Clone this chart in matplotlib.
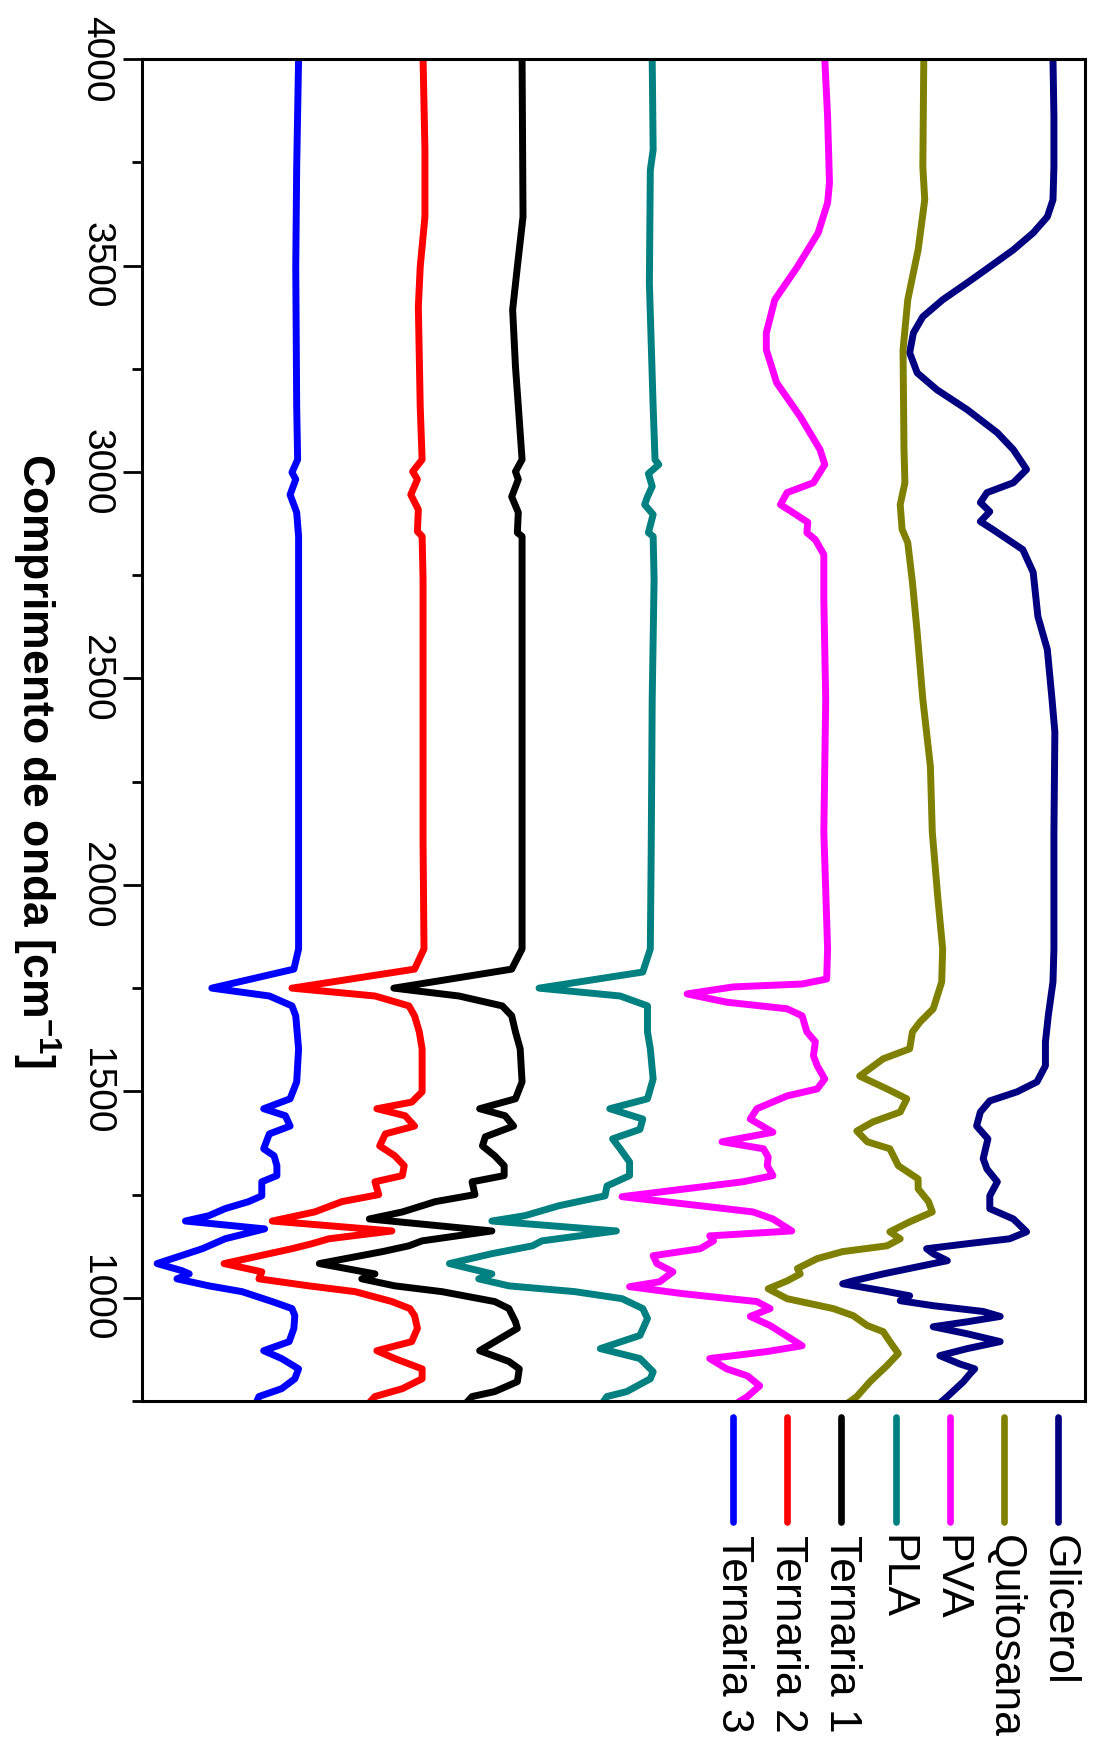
import matplotlib
matplotlib.use("Agg")
import matplotlib.pyplot as plt
from matplotlib.ticker import MultipleLocator

plt.rcParams['font.family'] = ['Liberation Sans', 'DejaVu Sans']
plt.rcParams['mathtext.fontset'] = 'custom'
plt.rcParams['mathtext.rm'] = 'Liberation Sans'
plt.rcParams['mathtext.bf'] = 'Liberation Sans:bold'
plt.rcParams['mathtext.default'] = 'bf'

# --- FTIR spectra (wavenumber in cm-1, transmittance with vertical offset, a.u.) ---
glicerol_wn = [4000, 3860, 3739, 3659, 3618, 3579, 3538, 3497, 3458, 3417, 3376, 3337, 3289, 3240, 3199,
               3151, 3095, 3054, 3006, 2974, 2950, 2926, 2904, 2880, 2861, 2812, 2757, 2650, 2570, 2449,
               2370, 2128, 1845, 1765, 1683, 1620, 1562, 1523, 1499, 1477, 1450, 1416, 1385, 1337, 1312,
               1281, 1247, 1216, 1191, 1160, 1143, 1131, 1119, 1107, 1090, 1075, 1058, 1041, 1034, 1017,
               1005, 993, 981, 967, 955, 942, 930, 913, 894, 877, 860, 840, 828, 816, 797, 761, 751]
glicerol_t = [96.6, 96.7, 96.7, 96.6, 96.0, 94.5, 92.4, 89.9, 87.5, 84.9, 82.8, 81.8, 81.4, 82.2, 84.3,
              87.5, 90.7, 92.4, 93.8, 92.4, 89.6, 88.9, 89.9, 88.9, 90.2, 93.4, 94.5, 95.0, 96.0, 96.5,
              96.8, 96.7, 96.7, 96.6, 96.1, 95.8, 95.8, 94.9, 92.8, 89.9, 88.9, 88.5, 89.7, 89.2, 89.6,
              90.7, 89.9, 89.9, 92.4, 93.8, 92.0, 87.5, 83.2, 83.9, 85.4, 82.2, 78.6, 75.4, 74.3, 78.6,
              81.4, 80.4, 83.9, 89.2, 91.0, 87.5, 83.9, 87.5, 91.0, 87.5, 84.6, 86.7, 88.3, 87.8, 87.1, 85.4, 84.9]

quitosana_wn = [4000, 3739, 3659, 3538, 3417, 3296, 3054, 2974, 2921, 2861, 2829, 2732, 2611, 2449, 2287,
                2128, 1966, 1845, 1765, 1700, 1668, 1644, 1603, 1579, 1537, 1506, 1482, 1450, 1426, 1404,
                1378, 1361, 1320, 1288, 1264, 1233, 1208, 1184, 1160, 1143, 1126, 1112, 1095, 1071, 1058,
                1041, 1022, 998, 974, 957, 933, 918, 894, 865, 836, 797, 761, 751]
quitosana_t = [82.9, 82.8, 83.0, 82.3, 81.2, 80.7, 80.8, 80.9, 80.4, 80.6, 81.2, 81.7, 82.2, 82.8, 83.6,
               83.8, 84.4, 84.9, 84.8, 83.9, 82.5, 81.7, 81.4, 78.6, 76.1, 79.0, 81.1, 80.4, 77.5, 75.8,
               76.9, 79.3, 80.2, 82.3, 82.3, 83.4, 83.8, 81.4, 79.3, 80.4, 79.0, 74.3, 71.6, 69.5, 69.8,
               68.4, 66.4, 68.4, 73.3, 75.4, 76.9, 78.6, 79.3, 80.2, 79.0, 77.2, 75.8, 75.2]

pva_wn = [4000, 3860, 3700, 3652, 3579, 3497, 3417, 3337, 3296, 3216, 3134, 3054, 3018, 2974, 2950,
          2921, 2902, 2878, 2853, 2836, 2800, 2691, 2449, 2128, 1845, 1772, 1760, 1753, 1736, 1716,
          1700, 1683, 1644, 1620, 1586, 1562, 1530, 1506, 1489, 1458, 1433, 1401, 1378, 1361, 1341,
          1320, 1296, 1281, 1245, 1223, 1208, 1191, 1162, 1150, 1138, 1119, 1102, 1083, 1063, 1039,
          1027, 1010, 991, 974, 955, 933, 884, 870, 853, 828, 811, 787, 761, 751]
pva_t = [72.4, 72.7, 72.9, 72.7, 71.7, 69.5, 67.1, 66.2, 66.2, 67.3, 69.8, 71.9, 72.4, 71.2, 68.4,
         67.7, 69.0, 70.6, 70.5, 71.4, 72.3, 72.3, 72.5, 72.3, 72.7, 72.6, 70.0, 62.7, 57.8, 62.0,
         68.4, 70.0, 70.5, 71.4, 71.2, 71.6, 72.4, 71.6, 68.4, 65.2, 64.5, 66.9, 61.5, 65.9, 66.4,
         66.3, 66.9, 63.7, 50.9, 59.2, 64.8, 66.9, 68.9, 60.2, 60.6, 59.2, 54.2, 54.6, 56.3, 54.9,
         51.7, 57.4, 65.2, 66.6, 64.5, 66.6, 70.0, 66.3, 60.2, 62.0, 64.2, 65.5, 64.2, 63.5]

pla_wn = [4000, 3780, 3731, 3458, 3158, 3030, 3018, 2996, 2965, 2940, 2921, 2897, 2853, 2844, 2740,
          2450, 2100, 1845, 1789, 1750, 1731, 1707, 1644, 1603, 1530, 1482, 1458, 1433, 1408, 1385,
          1361, 1329, 1296, 1271, 1247, 1223, 1199, 1186, 1162, 1138, 1126, 1107, 1083, 1058, 1046,
          1029, 1015, 998, 974, 950, 909, 877, 853, 821, 804, 773, 761, 751]
pla_t = [54.1, 54.2, 53.9, 53.8, 54.2, 54.4, 54.8, 53.7, 54.1, 53.6, 53.3, 54.2, 53.7, 54.2, 54.3,
         54.1, 54.0, 53.9, 53.1, 42.1, 50.7, 53.6, 53.6, 53.9, 54.2, 53.6, 49.6, 53.1, 52.8, 49.9,
         50.7, 51.7, 51.7, 49.3, 49.1, 44.2, 40.6, 37.1, 50.3, 42.4, 41.4, 37.1, 32.6, 37.1, 35.7,
         38.9, 45.9, 50.9, 53.1, 53.6, 52.8, 48.6, 52.8, 54.2, 53.9, 51.4, 49.3, 49.0]

ternaria1_wn = [4000, 3618, 3497, 3393, 3255, 3160, 3030, 3001, 2982, 2940, 2902, 2853, 2844, 2740, 2450,
                2100, 1845, 1796, 1750, 1731, 1707, 1683, 1644, 1603, 1523, 1482, 1458, 1441, 1416, 1390,
                1368, 1344, 1320, 1296, 1281, 1250, 1233, 1208, 1191, 1162, 1138, 1126, 1112, 1083, 1058,
                1046, 1029, 1015, 991, 974, 942, 926, 872, 846, 828, 797, 773, 761, 751]
ternaria1_t = [40.3, 40.4, 39.8, 39.3, 39.6, 39.9, 40.3, 39.6, 39.9, 39.2, 39.9, 39.8, 40.3, 40.3, 40.3,
               40.3, 40.3, 39.2, 26.7, 33.6, 38.2, 39.2, 39.6, 40.1, 40.3, 39.6, 35.8, 38.5, 39.4, 36.4,
               36.1, 37.4, 38.4, 38.4, 35.0, 35.3, 31.1, 27.6, 24.1, 37.1, 29.7, 28.3, 25.5, 18.8, 24.7,
               23.3, 26.8, 31.8, 37.4, 38.9, 39.6, 39.8, 35.8, 38.9, 40.0, 39.8, 37.4, 35.0, 34.6]

ternaria2_wn = [4000, 3780, 3618, 3497, 3400, 3158, 3030, 3001, 2982, 2945, 2909, 2856, 2844, 2740, 2450,
                2100, 1845, 1796, 1750, 1731, 1707, 1683, 1644, 1603, 1499, 1474, 1458, 1441, 1416, 1397,
                1368, 1344, 1320, 1296, 1281, 1250, 1233, 1208, 1186, 1162, 1143, 1131, 1119, 1083, 1063,
                1046, 1029, 1015, 991, 974, 957, 926, 894, 872, 853, 828, 804, 780, 761, 751]
ternaria2_t = [29.8, 30.0, 30.0, 29.5, 29.3, 29.5, 29.7, 28.7, 29.2, 28.5, 29.3, 29.2, 29.7, 29.8, 29.8,
               29.8, 29.9, 28.9, 15.9, 24.7, 28.3, 28.9, 29.4, 29.7, 29.7, 28.6, 24.9, 27.9, 28.9, 25.8,
               25.2, 26.8, 27.8, 27.6, 24.7, 25.1, 21.2, 18.3, 13.8, 26.5, 19.8, 18.0, 15.9, 8.7, 12.7,
               12.4, 17.7, 22.6, 26.5, 28.4, 28.9, 29.2, 28.6, 24.9, 26.8, 29.7, 29.7, 27.6, 24.7, 24.3]

ternaria3_wn = [4000, 3739, 3497, 3158, 3030, 2999, 2982, 2945, 2902, 2844, 2740, 2450, 2100, 1845, 1796,
                1750, 1731, 1707, 1683, 1603, 1523, 1482, 1458, 1441, 1416, 1397, 1361, 1344, 1320, 1296,
                1281, 1247, 1233, 1216, 1199, 1186, 1167, 1143, 1131, 1119, 1083, 1066, 1058, 1046, 1029,
                1015, 991, 974, 957, 926, 894, 872, 853, 828, 804, 780, 761, 751]
ternaria3_t = [16.6, 16.4, 16.3, 16.4, 16.5, 15.9, 16.3, 15.7, 16.4, 16.6, 16.6, 16.6, 16.6, 16.6, 16.1,
               7.4, 13.5, 15.9, 16.3, 16.6, 16.4, 15.7, 12.9, 15.2, 15.7, 13.5, 12.9, 14.0, 14.3, 14.3,
               12.7, 12.7, 11.3, 8.8, 7.1, 4.6, 13.0, 8.8, 7.6, 6.4, 1.6, 4.2, 5.0, 3.7, 7.1,
               10.6, 13.8, 15.9, 16.2, 16.1, 15.6, 12.9, 14.8, 16.6, 16.2, 14.8, 12.4, 12.2]

names = ["Glicerol", "Quitosana", "PVA", "PLA", "Ternaria 1", "Ternaria 2", "Ternaria 3"]
colors = ["#000080", "#808000", "#FF00FF", "#008080", "#000000", "#FF0000", "#0000FF"]
spectra_wn = [glicerol_wn, quitosana_wn, pva_wn, pla_wn, ternaria1_wn, ternaria2_wn, ternaria3_wn]
spectra_t = [glicerol_t, quitosana_t, pva_t, pla_t, ternaria1_t, ternaria2_t, ternaria3_t]

fig = plt.figure(figsize=(10.96, 17.52), dpi=100)

# main panel: wavenumber runs down the page, spectra stacked left to right
ax = fig.add_axes([0.1296, 0.2003, 0.8604, 0.766])
for wn, t, c in zip(spectra_wn, spectra_t, colors):
    ax.plot(t, wn, color=c, lw=5, solid_joinstyle='round')

ax.set_xlim(0, 100)
ax.set_ylim(750, 4000)
ax.yaxis.set_major_locator(MultipleLocator(500))
ax.yaxis.set_minor_locator(MultipleLocator(250))
ax.tick_params(axis='y', which='major', direction='out', length=14, width=2,
               labelsize=28, labelrotation=-90, pad=6)
ax.tick_params(axis='y', which='minor', direction='out', length=7, width=2)
ax.tick_params(axis='x', which='both', bottom=False, labelbottom=False)
for lbl in ax.get_yticklabels():
    lbl.set_va('center')
for s in ax.spines.values():
    s.set_linewidth(2.2)

ax.set_ylabel("Comprimento de onda [cm$^{-1}$]", fontsize=32, fontweight='bold',
              rotation=270, va='center', ha='center')
ax.yaxis.set_label_coords(-0.1124, 0.4776)

# legend drawn below the panel, one vertical column per sample
lax = fig.add_axes([0.6441, 0.0, 0.3462, 0.198])
lax.axis('off')
lax.set_xlim(-0.5, 6.5)
lax.set_ylim(1, 0)
for k, (name, c) in enumerate(zip(names[::-1], colors[::-1])):
    lax.plot([k, k], [0.035, 0.337], color=c, lw=4.8, solid_capstyle='round')
    lax.text(k, 0.375, name, rotation=270, ha='center', va='top', fontsize=32)

fig.savefig("out.png", dpi=100)
